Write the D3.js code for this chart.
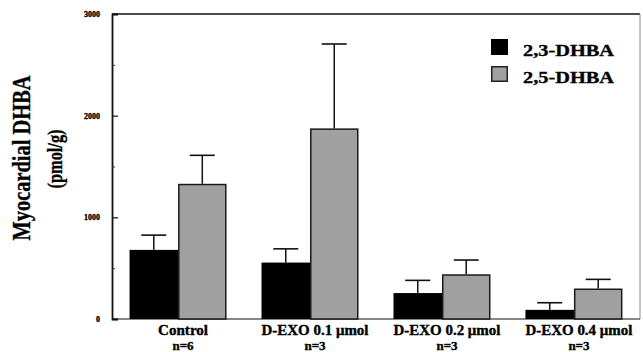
<!DOCTYPE html>
<html>
<head>
<meta charset="utf-8">
<script src="https://cdn.jsdelivr.net/npm/d3@7"></script>
<style>
  body { margin: 0; background: #fff; }
  svg { display: block; }
  text { font-family: "Liberation Serif", "Times New Roman", serif; font-weight: bold; fill: #000; stroke: #000; stroke-width: 0.35px; }
</style>
</head>
<body>
<svg id="chart" width="643" height="352"></svg>
<script>
const groups = ['Control', 'D-EXO 0.1 μmol', 'D-EXO 0.2 μmol', 'D-EXO 0.4 μmol']
const groupN = ['n=6', 'n=3', 'n=3', 'n=3']
const series = ['2,3-DHBA', '2,5-DHBA']
const mean23 = [680, 555, 255, 90]
const err23 = [145, 135, 125, 70]
const mean25 = [1330, 1875, 440, 300]
const err25 = [280, 830, 140, 90]
const yTicks = [0, 1000, 2000, 3000]
const yMinor = [500, 1500, 2500]

const fills = ['#000', '#a0a0a0']

const svg = d3.select('#chart')
const plotL = 112, plotR = 640, plotT = 14, plotB = 319

const x = d3.scaleBand().domain(groups).range([plotL, plotR])
  .paddingInner(0.265).paddingOuter(0.133)
const xs = d3.scaleBand().domain(series).range([0, x.bandwidth()])
const y = d3.scaleLinear().domain([0, 3000]).range([plotB, plotT])

const rows = groups.map((g, i) => [
  { g, s: series[0], v: mean23[i], e: err23[i] },
  { g, s: series[1], v: mean25[i], e: err25[i] }
])

// frame
svg.append('line').attr('x1', plotL).attr('x2', plotR).attr('y1', plotT).attr('y2', plotT)
  .attr('stroke', '#111').attr('stroke-width', 1.4)
svg.append('line').attr('x1', plotR).attr('x2', plotR).attr('y1', plotT).attr('y2', plotB)
  .attr('stroke', '#888').attr('stroke-width', 1)
svg.append('line').attr('x1', plotL).attr('x2', plotR).attr('y1', plotB).attr('y2', plotB)
  .attr('stroke', '#111').attr('stroke-width', 1.2)

// error bars first so bars cover the stems
const gs = svg.selectAll('g.grp').data(rows).join('g').attr('class', 'grp')
  .attr('transform', d => `translate(${x(d[0].g)},0)`)

gs.selectAll('g.err').data(d => d).join('g').attr('class', 'err')
  .each(function (d) {
    const cx = xs(d.s) + xs.bandwidth() / 2
    const g = d3.select(this)
    g.append('line').attr('x1', cx).attr('x2', cx).attr('y1', y(d.v)).attr('y2', y(d.v + d.e))
      .attr('stroke', '#111').attr('stroke-width', 1.5)
    g.append('line').attr('x1', cx - 12.5).attr('x2', cx + 12.5).attr('y1', y(d.v + d.e)).attr('y2', y(d.v + d.e))
      .attr('stroke', '#111').attr('stroke-width', 1.6)
  })

gs.selectAll('rect').data(d => d).join('rect')
  .attr('x', d => xs(d.s) + (d.s === series[1] ? 0.75 : 0))
  .attr('y', d => y(d.v) + (d.s === series[1] ? 0.75 : 0))
  .attr('width', d => xs.bandwidth() - (d.s === series[1] ? 1.5 : 0))
  .attr('height', d => plotB - y(d.v) - (d.s === series[1] ? 0.75 : 0))
  .attr('fill', d => fills[series.indexOf(d.s)])
  .attr('stroke', d => d.s === series[1] ? '#1a1a1a' : 'none')
  .attr('stroke-width', 1.5)

// y axis
const yAxis = svg.append('g').attr('transform', `translate(${plotL},0)`)
  .call(d3.axisLeft(y).tickValues(yTicks).tickSize(-6).tickPadding(12).tickFormat(d3.format('d')))
yAxis.select('.domain').attr('stroke', '#111').attr('stroke-width', 1.8)
yAxis.selectAll('.tick line').attr('stroke', '#111').attr('stroke-width', 1.2)
yAxis.selectAll('.tick text').attr('font-size', 8).attr('font-family', '"Liberation Serif", serif')
  .attr('font-weight', 'bold').attr('fill', '#000')
svg.append('g').attr('transform', `translate(${plotL},0)`)
  .call(d3.axisLeft(y).tickValues(yMinor).tickSize(-3).tickFormat(''))
  .call(g => g.select('.domain').remove())
  .selectAll('.tick line').attr('stroke', '#333').attr('stroke-width', 1)

// x labels, two lines under each group
const xl = svg.append('g')
groups.forEach((g, i) => {
  const cx = x(g) + x.bandwidth() / 2 + 5
  xl.append('text').attr('x', cx).attr('y', 335).attr('text-anchor', 'middle')
    .attr('font-size', 14).attr('textLength', g === 'Control' ? 50 : 107)
    .attr('lengthAdjust', 'spacingAndGlyphs').text(g)
  xl.append('text').attr('x', cx).attr('y', 350).attr('text-anchor', 'middle')
    .attr('font-size', 13).text(groupN[i])
})

// y title
svg.append('text').attr('transform', 'translate(30,158) rotate(-90)')
  .attr('text-anchor', 'middle').attr('font-size', 26)
  .attr('textLength', 165).attr('lengthAdjust', 'spacingAndGlyphs')
  .text('Myocardial DHBA')
svg.append('text').attr('transform', 'translate(62,159) rotate(-90)')
  .attr('text-anchor', 'middle').attr('font-size', 22)
  .attr('textLength', 59).attr('lengthAdjust', 'spacingAndGlyphs')
  .text('(pmol/g)')

// legend
const leg = svg.append('g').attr('transform', 'translate(491,39)')
series.forEach((s, i) => {
  const row = leg.append('g').attr('transform', `translate(0,${i * 27})`)
  row.append('rect').attr('x', i ? 0.75 : 0).attr('y', i ? 0.75 : 0)
    .attr('width', i ? 15.5 : 17).attr('height', i ? 14.5 : 16)
    .attr('fill', fills[i]).attr('stroke', i ? '#222' : 'none').attr('stroke-width', 1.5)
  row.append('text').attr('x', 32).attr('y', 16.5).attr('font-size', 17)
    .attr('textLength', 91).attr('lengthAdjust', 'spacingAndGlyphs').text(s)
})
</script>
</body>
</html>
